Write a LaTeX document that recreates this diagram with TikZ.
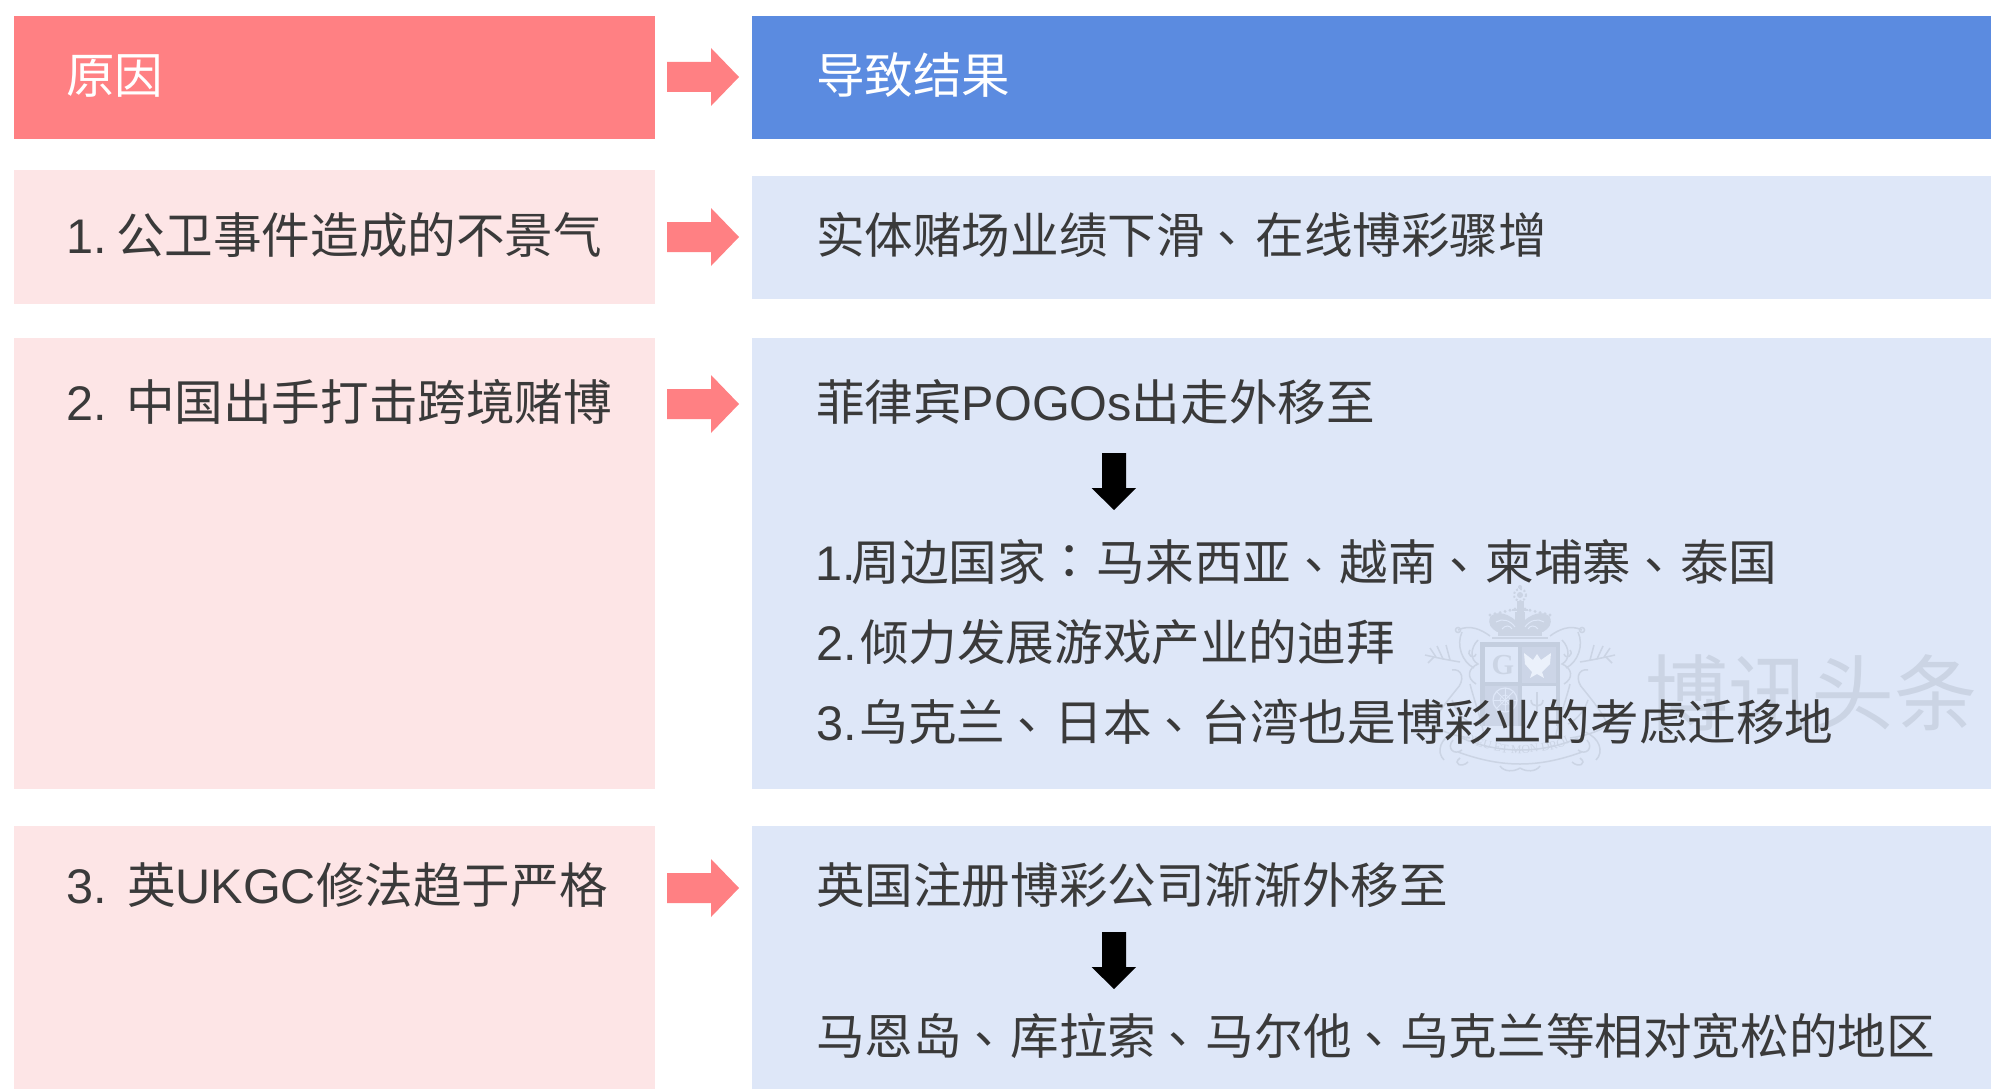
\documentclass[tikz,border=0pt]{standalone}
\usepackage{fontspec}
\setmainfont{Liberation Sans}
\newfontfamily\cjk{Noto Sans CJK SC}
\newfontfamily\crestfont{Liberation Serif}
\usetikzlibrary{decorations.text}
\definecolor{hdred}{HTML}{FF8083}
\definecolor{hdblue}{HTML}{5B8BE0}
\definecolor{palered}{HTML}{FDE5E6}
\definecolor{paleblue}{HTML}{DEE7F8}
\definecolor{ink}{HTML}{3A3A3A}
\definecolor{wm}{HTML}{CBD4E4}
\definecolor{wmd}{HTML}{C4CEDF}
\tikzset{
  x=1pt,y=-1pt,
  box/.style={inner sep=0,outer sep=0,anchor=north west,fill=#1},
  label/.style={inner sep=0,outer sep=0,anchor=base west,text=ink,font=\fontsize{48.6}{48.6}\selectfont\cjk},
  hdlabel/.style={label,text=white},
  wmline/.style={draw=wm,line width=1.5pt,fill=none},
}
% centred punctuation, as the reference prints it
\newcommand{\dun}{\makebox[1em][l]{\hspace{0.26em}\raisebox{0.22em}{、}}}
\newcommand{\mao}{\makebox[1.05em][l]{\hspace{0.24em}\raisebox{0.07em}{：}}}
\newcommand{\redarrow}[1]{\fill[hdred] (667,#1-15) -- (711,#1-15) -- (711,#1-29) -- (739,#1) -- (711,#1+29) -- (711,#1+15) -- (667,#1+15) -- cycle;}
\newcommand{\blackarrow}[1]{\fill[black] (1102,#1) -- (1126,#1) -- (1126,#1+35) -- (1136,#1+35) -- (1114,#1+57) -- (1091.5,#1+35) -- (1102,#1+35) -- cycle;}
\newcommand{\crestside}{%
  % antlers
  \draw[wmline] (1460,662) .. controls (1448,660) and (1438,658) .. (1425,655);
  \draw[wmline] (1450,660) -- (1446,645); \draw[wmline] (1443,659) -- (1437,646); \draw[wmline] (1436,657) -- (1430,648); \draw[wmline] (1434,657) -- (1428,663);
  % mane
  \draw[wmline] (1458,630) .. controls (1470,624) and (1482,630) .. (1490,636);
  \draw[wmline] (1458,630) circle (2.5);
  \draw[wmline] (1462,632) .. controls (1456,645) and (1462,662) .. (1474,668);
  \draw[wmline] (1478,640) .. controls (1470,648) and (1470,660) .. (1478,664) .. controls (1468,668) and (1466,678) .. (1476,684);
  \draw[wmline] (1470,650) .. controls (1466,655) and (1474,660) .. (1476,654);
  % deer body
  \draw[wmline] (1452,670) .. controls (1462,668) and (1466,680) .. (1456,690) .. controls (1448,700) and (1438,712) .. (1432,725);
  \draw[wmline] (1470,684) .. controls (1474,700) and (1480,715) .. (1484,735);
  \draw[wmline] (1432,725) .. controls (1442,732) and (1456,736) .. (1470,738);
  \draw[wmline] (1452,700) .. controls (1456,712) and (1464,720) .. (1472,724);
  % scrolls and ribbon at the foot
  \draw[wmline] (1453,740) .. controls (1446,748) and (1454,756) .. (1462,750);
  \draw[wmline] (1455,732) .. controls (1440,738) and (1436,752) .. (1444,760);
  \draw[wmline] (1458,752) .. controls (1480,760) and (1500,764) .. (1520,764);
  \draw[wmline] (1462,738) .. controls (1480,746) and (1500,750) .. (1520,750);
  \draw[wmline] (1460,758) .. controls (1452,764) and (1462,768) .. (1468,762);
  \draw[wmline] (1500,766) .. controls (1504,772) and (1514,772) .. (1520,768);
}
\newcommand{\crownside}{%
  \draw[wmline,fill=wm] (1520,626) .. controls (1508,612) and (1496,612) .. (1491,617) .. controls (1488,624) and (1492,628) .. (1497,631) -- (1520,631) -- cycle;
  \draw[paleblue,line width=1pt] (1496,622) .. controls (1502,618) and (1510,620) .. (1515,627);
  \draw[paleblue,line width=1pt] (1502,629) .. controls (1505,625) and (1510,625) .. (1512,629);
  \foreach \i in {0,1,2,3,4,5} { \fill[wm] (1490+\i*5,{615-\i*1.2}) circle (1.6); }
}
\begin{document}
\begin{tikzpicture}
\useasboundingbox (0,0) rectangle (1991,1089);
\fill[white] (0,0) rectangle (1991,1089);
% boxes
\node[box=hdred,minimum width=641pt,minimum height=123pt] (c0) at (14,16) {};
\node[box=hdblue,minimum width=1239pt,minimum height=123pt] (r0) at (752,16) {};
\node[box=palered,minimum width=641pt,minimum height=134pt] (c1) at (14,170) {};
\node[box=paleblue,minimum width=1239pt,minimum height=123pt] (r1) at (752,176) {};
\node[box=palered,minimum width=641pt,minimum height=451pt] (c2) at (14,338) {};
\node[box=paleblue,minimum width=1239pt,minimum height=451pt] (r2) at (752,338) {};
\node[box=palered,minimum width=641pt,minimum height=263pt] (c3) at (14,826) {};
\node[box=paleblue,minimum width=1239pt,minimum height=263pt] (r3) at (752,826) {};
% watermark crest: crown
\fill[wm] (1520,587) circle (2);
\draw[wm,line width=2pt,dotted] (1520,595) circle (6);
\fill[wm] (1520,595) circle (3);
\fill[wm] (1516.5,601) rectangle (1523.5,612);
\draw[wmline] (1512,610) -- (1528,610);
\fill[wm] (1515,612) rectangle (1525,630);
\begin{scope}\crownside\end{scope}
\begin{scope}[xshift=3040pt,xscale=-1]\crownside\end{scope}
\fill[wm] (1498,632) rectangle (1542,636);
\draw[wmline] (1492,638) -- (1548,638);
% shield
\fill[wmd] (1480,642) rectangle (1560,726);
\fill[paleblue] (1485,647) rectangle (1518,682);
\fill[wmd!70!paleblue] (1522,647) rectangle (1556,683);
\fill[wmd!70!paleblue] (1485,686) rectangle (1518,726);
\fill[paleblue] (1522,686) rectangle (1556,726);
\node[inner sep=0,text=wm,font=\fontsize{29}{29}\selectfont\crestfont\bfseries] (crestg) at (1503,665) {G};
% eagle
\fill[paleblue!60!white] (1537,654) -- (1533,660) -- (1524,653) -- (1525,664) -- (1532,672) -- (1530,678) -- (1537,674) -- (1544,678) -- (1542,672) -- (1550,664) -- (1551,653) -- (1541,660) -- cycle;
% wheel and fleur
\draw[paleblue,line width=1.2pt] (1505,700) circle (12);
\draw[paleblue,line width=.8pt] (1505,700) circle (5);
\foreach \a in {0,45,...,315} { \draw[paleblue,line width=.8pt] (1505,700) -- ++(\a:12); }
\draw[wm,line width=1.6pt] (1537,692) -- (1537,716) (1531,700) .. controls (1531,708) and (1543,708) .. (1543,700);
\begin{scope}\crestside\end{scope}
\begin{scope}[xshift=3040pt,xscale=-1]\crestside\end{scope}
\path[postaction={decorate,decoration={text along path,text align=center,text color=wm,text={|\fontsize{12}{12}\selectfont\crestfont|DIEU ET MON DROIT}}}]
  (1468,742) .. controls (1495,757) and (1545,757) .. (1572,742);
% watermark words
\node[inner sep=0,anchor=base west,text=wm,font=\fontsize{83}{83}\selectfont\cjk] (wmtext) at (1645,724) {博讯头条};
% arrows
\redarrow{77}
\redarrow{237}
\redarrow{404}
\redarrow{888}
\blackarrow{453}
\blackarrow{932}
% labels
\node[hdlabel] (t0) at (66,94) {原因};
\node[hdlabel] (u0) at (816,94) {导致结果};
\node[label] (t1) at (66,253) {{\rmfamily 1.}\hspace{9.5pt}公卫事件造成的不景气};
\node[label] (u1) at (816,253) {实体赌场业绩下滑\dun\hspace{2pt}在线博彩骤增};
\node[label] (t2) at (66,420.5) {{\rmfamily 2.}\hspace{19.5pt}中国出手打击跨境赌博};
\node[label] (u2) at (816,420.5) {菲律宾{\rmfamily POGOs}出走外移至};
\node[label] (u3) at (816,580) {\hspace*{-1pt}{\rmfamily 1.}\hspace{-4pt}周边国家\mao 马来西亚\dun 越南\dun 柬埔寨\dun 泰国};
\node[label] (u4) at (816,660) {{\rmfamily 2.}\hspace{3.5pt}倾力发展游戏产业的迪拜};
\node[label] (u5) at (816,740) {{\rmfamily 3.}\hspace{3pt}乌克兰\dun\hspace{1pt}日本\dun\hspace{1pt}台湾也是博彩业的考虑迁移地};
\node[label] (t3) at (66,903) {{\rmfamily 3.}\hspace{20.5pt}英{\rmfamily UKGC}修法趋于严格};
\node[label] (u6) at (816,903) {英国注册博彩公司渐渐外移至};
\node[label] (u7) at (816,1054) {马恩岛\dun 库拉索\dun\hspace{1pt}马尔他\dun 乌克兰等相对宽松的地区};
\end{tikzpicture}
\end{document}
